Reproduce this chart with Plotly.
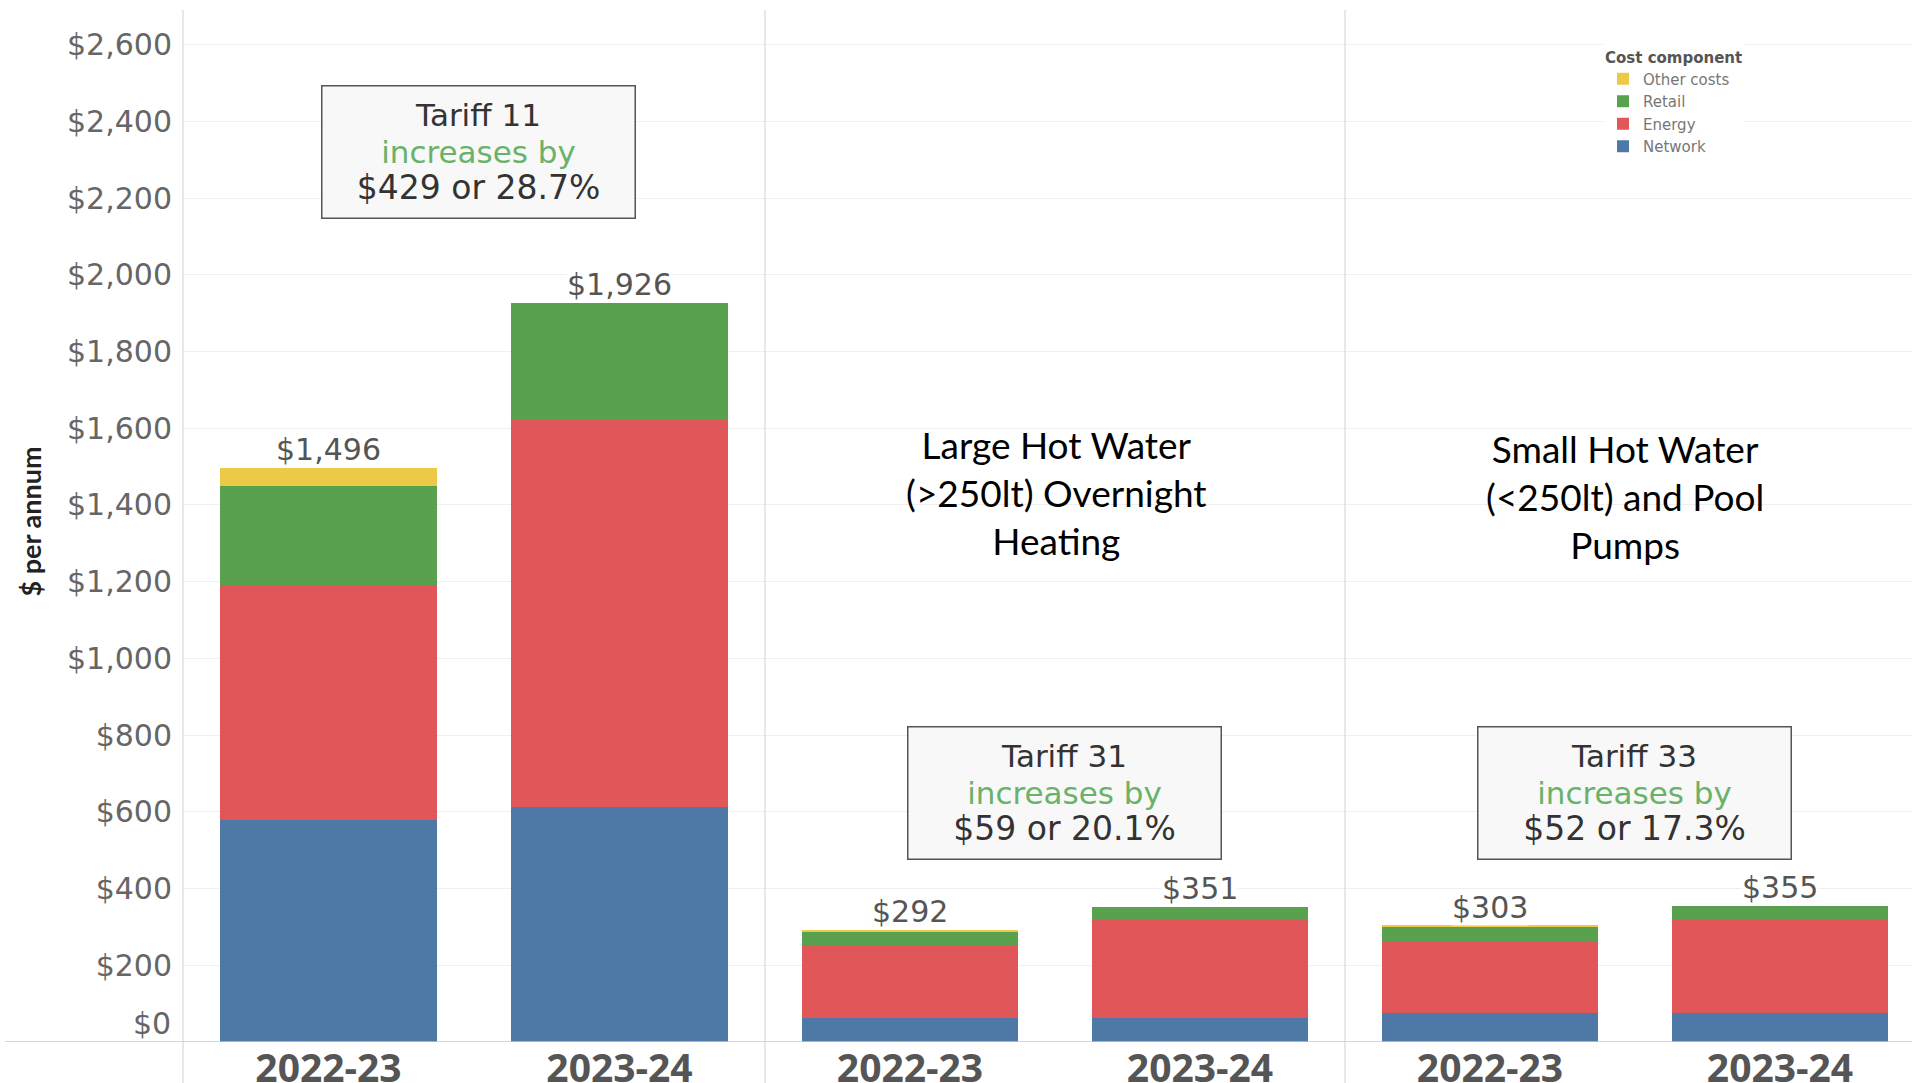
import plotly.graph_objects as go
from plotly.subplots import make_subplots

# ---------------- data ----------------
years = ["2022-23", "2023-24"]
tariffs = ["Tariff 11", "Tariff 31", "Tariff 33"]
panel_titles = ["",
                "Large Hot Water<br>(&gt;250lt) Overnight<br>Heating",
                "Small Hot Water<br>(&lt;250lt) and Pool<br>Pumps"]
network = [[578, 613], [63, 63], [76, 76]]
energy = [[611, 1008], [187, 255], [187, 242]]
retail = [[260, 305], [36, 33], [38, 37]]
other = [[47, 0], [6, 0], [2, 0]]
increase_amount = ["$429", "$59", "$52"]
increase_pct = ["28.7%", "20.1%", "17.3%"]
y_ticks = list(range(200, 2601, 200))

colors = {"Network": "#4e79a7", "Energy": "#e15759",
          "Retail": "#59a14f", "Other costs": "#edc948"}
series = [("Network", network), ("Energy", energy),
          ("Retail", retail), ("Other costs", other)]

# ---------------- layout geometry ----------------
W, H = 1912, 1083
ML, MR, MT, MB = 183, 0, 10, 41
PW = W - ML - MR
PH = H - MT - MB
px_per_dollar = 0.3836
y_max = PH / px_per_dollar
d1 = 582 / PW
d2 = 1162 / PW

fig = make_subplots(rows=1, cols=3, shared_yaxes=True, horizontal_spacing=0)

for p in range(3):
    for name, vals in series:
        fig.add_trace(go.Bar(
            x=years, y=vals[p], name=name,
            marker=dict(color=colors[name], line=dict(width=0)),
            width=0.745, showlegend=(p == 0),
            hovertemplate=name + ": $%{y:,}<extra></extra>"),
            row=1, col=p + 1)

val_font = dict(family="DejaVu Sans", size=30, color="#555555")
for p in range(3):
    xr = "x" if p == 0 else f"x{p + 1}"
    for i, yr in enumerate(years):
        total = network[p][i] + energy[p][i] + retail[p][i] + other[p][i]
        fig.add_annotation(x=yr, y=total, xref=xr, yref="y",
                           text=f"${total:,}", showarrow=False,
                           yanchor="bottom", yshift=0, font=val_font,
                           bgcolor="rgba(255,255,255,0.85)", borderpad=0)

# Tariff increase boxes
box_pos = [(0.5077, 2320), (0.517, 650), (0.5106, 650)]
for p in range(3):
    xr = "x domain" if p == 0 else f"x{p + 1} domain"
    bx, by = box_pos[p]
    txt = (f"<span style='font-size:31px;color:#333333'>{tariffs[p]}</span><br>"
           f"<span style='font-size:31px;color:#6ab26a'>increases by</span><br>"
           f"<span style='font-size:33px;color:#333333'>{increase_amount[p]} or {increase_pct[p]}</span>")
    fig.add_annotation(x=bx, y=by, xref=xr, yref="y", text=txt,
                       showarrow=False, xanchor="center", yanchor="middle",
                       width=312, height=131, borderpad=0,
                       bordercolor="#555555", borderwidth=1.5,
                       bgcolor="#f8f8f8",
                       font=dict(family="DejaVu Sans", size=28, color="#333333"))

# Panel titles
title_pos = [None, (0.502, 1432), (0.494, 1421)]
for p in (1, 2):
    tx, ty = title_pos[p]
    fig.add_annotation(x=tx, y=ty, xref=f"x{p + 1} domain", yref="y",
                       text=panel_titles[p], showarrow=False,
                       xanchor="center", yanchor="middle",
                       font=dict(family="Lato", size=37, color="#000000"))

# y-axis title and $0 label
fig.add_annotation(x=(30 - ML) / PW, y=1357, xref="paper", yref="y",
                   text="$ per annum", textangle=-90, showarrow=False,
                   xanchor="center", yanchor="middle",
                   font=dict(family="Lato", size=27, color="#222222", weight="bold"))
fig.add_annotation(x=(173 - ML) / PW, y=0, xref="paper", yref="y",
                   text="$0", showarrow=False, xanchor="right", yanchor="middle",
                   yshift=19, font=dict(family="DejaVu Sans", size=30, color="#666666"))

# separators and baseline
for xs in (0, d1, d2):
    fig.add_shape(type="line", xref="paper", yref="paper", x0=xs, x1=xs,
                  y0=-0.05, y1=1.0, line=dict(color="#d9d9d9", width=1.2), layer="above")
fig.add_shape(type="line", xref="paper", yref="y", x0=(5 - ML) / PW, x1=1,
              y0=0, y1=0, line=dict(color="#c8c8c8", width=1.5), layer="above")

fig.update_xaxes(showgrid=False, showline=False, zeroline=False, ticks="",
                 automargin=False,
                 tickfont=dict(family="Open Sans", size=39, color="#555555", weight="bold"))
fig.update_layout(
    xaxis=dict(domain=[0, d1], range=[-0.5, 1.5]),
    xaxis2=dict(domain=[d1, d2], range=[-0.5, 1.5]),
    xaxis3=dict(domain=[d2, 1], range=[-0.5, -0.5 + 2 * 567 / 580]),
)
fig.update_yaxes(range=[0, y_max], tickvals=y_ticks, tickformat="$,.0f",
                 showgrid=True, gridcolor="#efefef", gridwidth=1,
                 zeroline=False, showline=False, ticks="", automargin=False,
                 tickfont=dict(family="DejaVu Sans", size=30, color="#666666"))
fig.update_yaxes(ticklabelstandoff=10, row=1, col=1)

fig.update_layout(
    width=W, height=H, barmode="stack",
    margin=dict(l=ML, r=MR, t=MT, b=MB, autoexpand=False),
    paper_bgcolor="white", plot_bgcolor="white",
    legend=dict(x=(1603 - ML) / PW, y=(H - MB - 43) / PH, xanchor="left", yanchor="top",
                bgcolor="white", traceorder="reversed",
                font=dict(family="DejaVu Sans", size=15, color="#777777"),
                title=dict(text="Cost component",
                           font=dict(family="DejaVu Sans", size=15, color="#555555", weight="bold"))),
    showlegend=True,
)

fig.write_html("out.html")
